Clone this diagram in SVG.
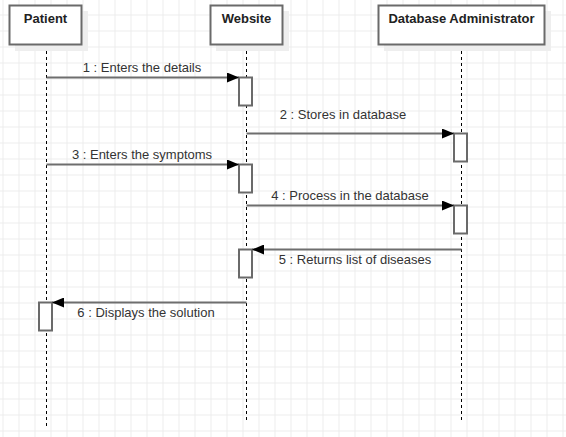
<svg xmlns="http://www.w3.org/2000/svg" width="566" height="437" viewBox="0 0 566 437">
<defs>
<pattern id="grid" x="2.5" y="14.5" width="16" height="16" patternUnits="userSpaceOnUse">
<path d="M0 0.5H16M0.5 0V16" fill="none" stroke="#ececec" stroke-width="1"/>
</pattern>
<marker id="arr" viewBox="0 0 12 10" refX="12" refY="5" markerWidth="12" markerHeight="10" markerUnits="userSpaceOnUse" orient="auto">
<path d="M0 0L12 5L0 10Z" fill="#000"/>
</marker>
</defs>
<style>
.box{fill:#fff;stroke:#6a6a6a;stroke-width:2}
.shadow{fill:#eeeeee}
.hdr{font-family:"Liberation Sans",Arial,sans-serif;font-size:13px;font-weight:bold;fill:#222;text-anchor:middle}
.life{stroke:#000;stroke-width:1;stroke-dasharray:3 3;fill:none}
.act{fill:#fff;stroke:#6a6a6a;stroke-width:2}
.msg{stroke:#6e6e6e;stroke-width:2;fill:none;marker-end:url(#arr)}
.lbl{font-family:"Liberation Sans",Arial,sans-serif;font-size:13px;fill:#333;text-anchor:middle}
</style>
<rect x="0" y="0" width="566" height="437" fill="#fff"/>
<rect x="0" y="0" width="566" height="437" fill="url(#grid)"/>

<g id="lifelines">
<line class="life" x1="46.5" y1="45" x2="46.5" y2="427"/>
<line class="life" x1="246.5" y1="45" x2="246.5" y2="421"/>
<line class="life" x1="461.5" y1="45" x2="461.5" y2="421"/>
</g>

<g id="patient">
<rect class="shadow" x="15" y="11" width="73" height="40"/>
<rect class="box" x="9.5" y="5.5" width="72" height="39"/>
<text class="hdr" x="45.5" y="22.5">Patient</text>
</g>
<g id="website">
<rect class="shadow" x="216" y="11" width="73" height="40"/>
<rect class="box" x="210.5" y="5.5" width="72" height="39"/>
<text class="hdr" x="246.5" y="22.5">Website</text>
</g>
<g id="dbadmin">
<rect class="shadow" x="384" y="11" width="167" height="40"/>
<rect class="box" x="378.5" y="5.5" width="166" height="39"/>
<text class="hdr" x="461.5" y="22.5">Database Administrator</text>
</g>

<g id="activations">
<rect class="act" x="239" y="77.5" width="13" height="28"/>
<rect class="act" x="454" y="133.5" width="13" height="28"/>
<rect class="act" x="239" y="164.5" width="13" height="28"/>
<rect class="act" x="454" y="205.5" width="13" height="28"/>
<rect class="act" x="239" y="249.5" width="13" height="28"/>
<rect class="act" x="39" y="302.5" width="13" height="28"/>
</g>

<g id="connectors">
<line class="msg" x1="46.5" y1="77.5" x2="239" y2="77.5"/>
<line class="msg" x1="246.5" y1="133.5" x2="454" y2="133.5"/>
<line class="msg" x1="46.5" y1="164.5" x2="239" y2="164.5"/>
<line class="msg" x1="246.5" y1="205.5" x2="454" y2="205.5"/>
<line class="msg" x1="461.5" y1="249.5" x2="252" y2="249.5"/>
<line class="msg" x1="246.5" y1="302.5" x2="52" y2="302.5"/>
</g>

<g id="labels">
<text class="lbl" x="142" y="72">1 : Enters the details</text>
<text class="lbl" x="343" y="119">2 : Stores in database</text>
<text class="lbl" x="142" y="159">3 : Enters the symptoms</text>
<text class="lbl" x="350" y="200">4 : Process in the database</text>
<text class="lbl" x="355" y="264">5 : Returns list of diseases</text>
<text class="lbl" x="146" y="317">6 : Displays the solution</text>
</g>
</svg>
